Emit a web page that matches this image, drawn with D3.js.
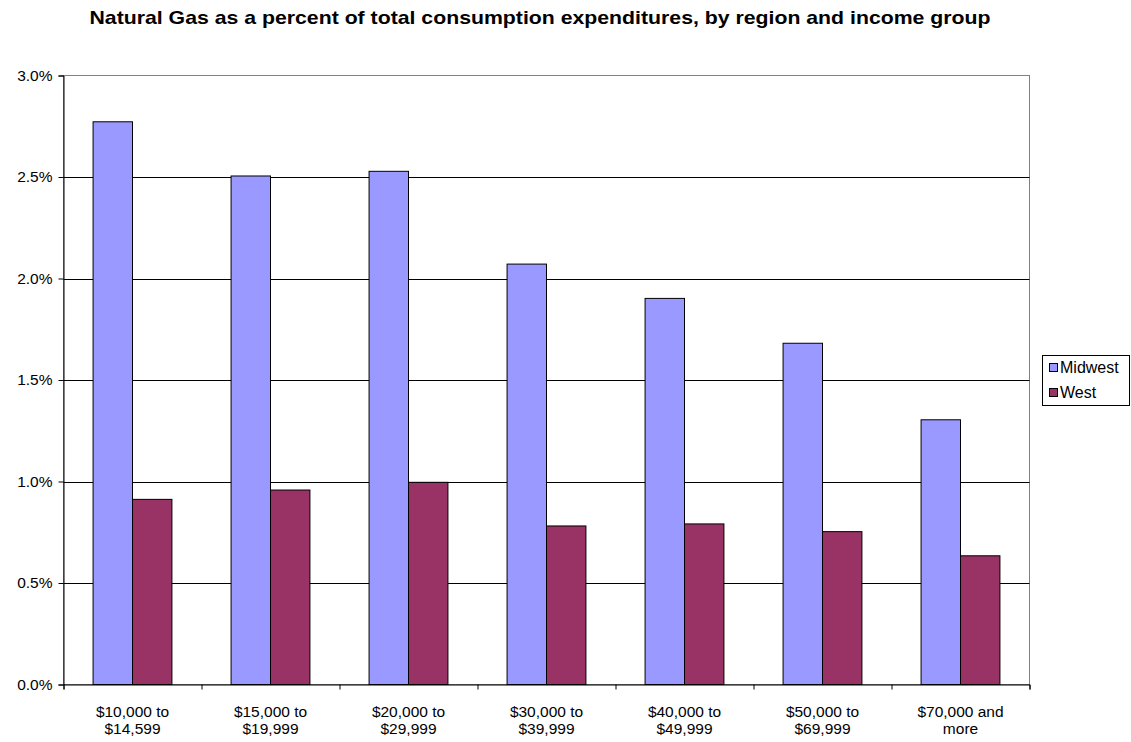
<!DOCTYPE html>
<html><head><meta charset="utf-8">
<script src="https://cdn.jsdelivr.net/npm/d3@7"></script>
<style>body{margin:0;background:#fff;} text{font-family:"Liberation Sans",Arial,sans-serif;}</style>
</head><body>
<svg id="c" width="1131" height="742"></svg>
<script>
const categories = [["$10,000 to","$14,599"],["$15,000 to","$19,999"],["$20,000 to","$29,999"],["$30,000 to","$39,999"],["$40,000 to","$49,999"],["$50,000 to","$69,999"],["$70,000 and","more"]];
const seriesNames = ["Midwest","West"];
const midwest = [2.772, 2.505, 2.528, 2.071, 1.902, 1.681, 1.304];
const west = [0.912, 0.958, 0.996, 0.781, 0.791, 0.753, 0.634];
const yTicks = [0, 0.5, 1.0, 1.5, 2.0, 2.5, 3.0];
const colors = ["#9999FF", "#993366"];
const title = "Natural Gas as a percent of total consumption expenditures, by region and income group";

const svg = d3.select("#c");
const L = 63.5, R = 1029.5, T = 75.5, B = 684.5;
const x = d3.scaleBand().domain(d3.range(categories.length)).range([L, R]).paddingInner(0).paddingOuter(0);
const y = d3.scaleLinear().domain([0, 3]).range([B, T]);
const series = [midwest, west];
const bw = x.bandwidth() / 3.5;

svg.append("text").attr("x", 89.5).attr("y", 24).attr("text-anchor", "start")
  .attr("font-weight", "bold").attr("font-size", 19)
  .attr("textLength", 901).attr("lengthAdjust", "spacingAndGlyphs").text(title);

// plot border
svg.append("rect").attr("x", L).attr("y", T).attr("width", R - L).attr("height", B - T)
  .attr("fill", "none").attr("stroke", "#808080").attr("stroke-width", 1);

// gridlines
svg.append("g").selectAll("line").data(yTicks.filter(d => d > 0 && d < 3)).join("line")
  .attr("x1", L).attr("x2", R).attr("y1", d => Math.round(y(d)) + 0.5).attr("y2", d => Math.round(y(d)) + 0.5)
  .attr("stroke", "#000").attr("stroke-width", 1);

// bars
series.forEach((s, si) => {
  svg.append("g").selectAll("rect").data(s).join("rect")
    .attr("x", (d, i) => x(i) + x.bandwidth() / 2 - bw + si * bw)
    .attr("y", d => y(d))
    .attr("width", bw)
    .attr("height", d => B - y(d))
    .attr("fill", colors[si]).attr("stroke", "#000").attr("stroke-width", 1);
});

// y axis
const yAxis = d3.axisLeft(y).tickValues(yTicks).tickFormat(d => d.toFixed(1) + "%").tickSize(5).tickPadding(6);
const ga = svg.append("g").attr("transform", `translate(${L},0)`).call(yAxis);
ga.select(".domain").attr("stroke", "#000");
ga.selectAll(".tick line").attr("stroke", "#000");
ga.selectAll(".tick text").attr("font-size", 15.5).attr("fill", "#000").attr("font-family", "Liberation Sans, Arial, sans-serif");

// x axis
const xb = d3.scaleLinear().domain([0, categories.length]).range([L, R]);
const xAxis = d3.axisBottom(xb).tickValues(d3.range(categories.length + 1)).tickFormat("").tickSize(5);
const gx = svg.append("g").attr("transform", `translate(0,${B})`).call(xAxis);
gx.select(".domain").attr("stroke", "#000");
gx.selectAll(".tick line").attr("stroke", "#000");
svg.append("g").selectAll("text").data(categories).join("text")
  .attr("text-anchor", "middle").attr("font-size", 15.5)
  .attr("transform", (d, i) => `translate(${x(i) + x.bandwidth() / 2},0)`)
  .each(function(d) {
    const t = d3.select(this);
    d.forEach((line, j) => t.append("tspan").attr("x", 0).attr("y", 717 + j * 17).text(line));
  });

// legend
const lg = svg.append("g");
lg.append("rect").attr("x", 1042.5).attr("y", 355.5).attr("width", 87).attr("height", 50)
  .attr("fill", "#fff").attr("stroke", "#000").attr("stroke-width", 1);
seriesNames.forEach((n, i) => {
  lg.append("rect").attr("x", 1049.5).attr("y", 363.5 + i * 25).attr("width", 8).attr("height", 8)
    .attr("fill", colors[i]).attr("stroke", "#000");
  lg.append("text").attr("x", 1060).attr("y", 373 + i * 25).attr("font-size", 16).text(n);
});
</script>
</body></html>
